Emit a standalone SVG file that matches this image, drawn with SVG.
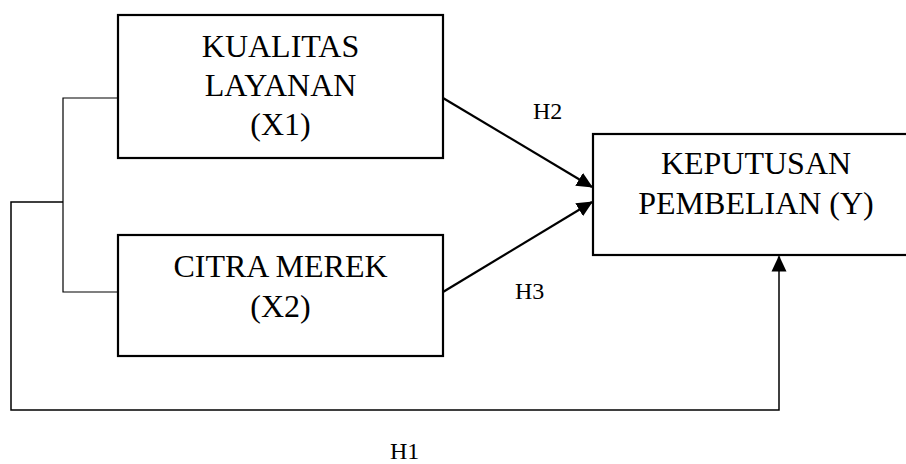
<svg xmlns="http://www.w3.org/2000/svg" width="906" height="464" viewBox="0 0 906 464">
<style>
.box{fill:#fff;stroke:#000;stroke-width:2.2}
.t{font-family:"Liberation Serif","Times New Roman",serif;font-size:32px;fill:#000;text-anchor:middle}
.h{font-family:"Liberation Serif","Times New Roman",serif;font-size:24px;fill:#000}
.thin{fill:none;stroke:#000;stroke-width:1.2}
.arr{fill:none;stroke:#000;stroke-width:2.2;marker-end:url(#ah)}
</style>
<defs>
<marker id="ah" markerUnits="userSpaceOnUse" markerWidth="16" markerHeight="16" viewBox="0 0 16 16" refX="15" refY="8" orient="auto">
<path d="M0,0.5 L16,8 L0,15.5 z" fill="#000"/>
</marker>
</defs>
<rect width="906" height="464" fill="#fff"/>
<g id="connectors">
<polyline class="thin" points="118,98 63,98 63,292 118,292"/>
<polyline class="thin" points="63,202 11,202 11,410 779,410 779,262" style="stroke-width:1.5"/>
<path d="M779,270 L779,256.5" stroke="#000" stroke-width="2.2" marker-end="url(#ah)"/>
<line class="arr" x1="443" y1="98" x2="592" y2="187"/>
<line class="arr" x1="443" y1="292" x2="592" y2="202"/>
<text class="h" x="533" y="119">H2</text>
<text class="h" x="515" y="299">H3</text>
<text class="h" x="390" y="459">H1</text>
</g>
<g id="x1">
<rect class="box" x="118" y="15" width="325" height="143"/>
<text class="t" x="280.5" y="57">KUALITAS</text>
<text class="t" x="280.5" y="96">LAYANAN</text>
<text class="t" x="280.5" y="135">(X1)</text>
</g>
<g id="x2">
<rect class="box" x="118" y="235" width="325" height="121"/>
<text class="t" x="280.5" y="277">CITRA MEREK</text>
<text class="t" x="280.5" y="317">(X2)</text>
</g>
<g id="y">
<rect class="box" x="593" y="134" width="325" height="121"/>
<text class="t" x="756" y="174">KEPUTUSAN</text>
<text class="t" x="756" y="214">PEMBELIAN (Y)</text>
</g>
</svg>
